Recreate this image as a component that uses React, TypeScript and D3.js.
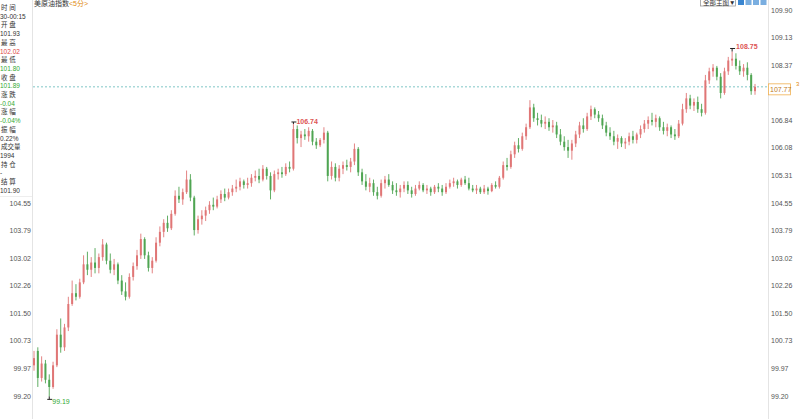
import React from "react";
import * as d3 from "d3";

const W = 800;
const H = 419;

// [open, high, low, close]
const ohlc: [number, number, number, number][] = [
  [100.05, 100.45, 99.9, 100.25], [100.45, 100.55, 99.45, 99.7], [99.7, 100.3, 99.6, 100.1], [100.1, 100.2, 99.55, 99.65],
  [99.65, 99.8, 99.19, 99.45], [99.45, 100.15, 99.4, 100.05], [100.05, 101.05, 100.0, 100.9], [100.9, 101.35, 100.4, 100.55],
  [100.55, 101.2, 100.45, 101.1], [101.1, 101.95, 101.0, 101.75], [101.75, 102.4, 101.7, 102.05], [102.05, 102.3, 101.85, 101.95],
  [101.95, 102.45, 101.9, 102.35], [102.35, 103.1, 102.3, 102.85], [102.85, 103.2, 102.55, 102.7], [102.7, 103.05, 102.5, 102.9],
  [102.9, 103.3, 102.6, 102.75], [102.75, 103.15, 102.6, 103.05], [103.05, 103.55, 102.95, 103.4], [103.4, 103.45, 102.85, 102.95],
  [102.95, 103.15, 102.6, 102.7], [102.7, 103.0, 102.55, 102.85], [102.85, 102.9, 102.3, 102.4], [102.4, 102.55, 102.0, 102.1],
  [102.1, 102.35, 101.85, 101.95], [101.95, 102.6, 101.9, 102.5], [102.5, 102.9, 102.4, 102.8], [102.8, 103.25, 102.7, 103.1],
  [103.1, 103.7, 103.0, 103.55], [103.55, 103.6, 103.0, 103.1], [103.1, 103.2, 102.65, 102.75], [102.75, 103.05, 102.6, 102.95],
  [102.95, 103.6, 102.9, 103.45], [103.45, 103.9, 103.35, 103.75], [103.75, 104.1, 103.6, 104.0], [104.0, 104.2, 103.75, 103.85],
  [103.85, 104.35, 103.8, 104.25], [104.25, 104.9, 104.2, 104.75], [104.75, 105.0, 104.55, 104.65], [104.65, 104.95, 104.5, 104.85],
  [104.85, 105.45, 104.8, 105.2], [105.2, 105.35, 104.6, 104.7], [104.7, 104.75, 103.65, 103.8], [103.8, 104.2, 103.7, 104.1],
  [104.1, 104.35, 103.95, 104.2], [104.2, 104.45, 104.05, 104.35], [104.35, 104.6, 104.25, 104.5], [104.5, 104.7, 104.35, 104.45],
  [104.45, 104.75, 104.4, 104.65], [104.65, 104.9, 104.55, 104.8], [104.8, 104.95, 104.6, 104.7], [104.7, 104.95, 104.65, 104.85],
  [104.85, 105.05, 104.75, 104.95], [104.95, 105.2, 104.85, 105.0], [105.0, 105.25, 104.9, 105.15], [105.15, 105.2, 104.95, 105.05],
  [105.05, 105.25, 104.95, 105.1], [105.1, 105.35, 105.0, 105.25], [105.25, 105.45, 105.15, 105.3], [105.3, 105.5, 105.1, 105.2],
  [105.2, 105.6, 105.15, 105.5], [105.5, 105.55, 105.2, 105.3], [105.3, 105.4, 104.65, 104.9], [104.9, 105.45, 104.85, 105.35],
  [105.35, 105.5, 105.2, 105.4], [105.4, 105.55, 105.25, 105.35], [105.35, 105.65, 105.3, 105.55], [105.55, 105.7, 105.4, 105.5],
  [105.5, 106.74, 105.45, 106.6], [106.6, 106.7, 106.2, 106.35], [106.35, 106.55, 106.1, 106.45], [106.45, 106.6, 106.3, 106.4],
  [106.4, 106.65, 106.25, 106.55], [106.55, 106.6, 106.15, 106.25], [106.25, 106.35, 106.05, 106.15], [106.15, 106.35, 106.1, 106.3],
  [106.3, 106.65, 106.2, 106.5], [106.5, 106.55, 105.15, 105.3], [105.3, 105.7, 105.2, 105.55], [105.55, 105.65, 105.15, 105.25],
  [105.25, 105.6, 105.15, 105.5], [105.5, 105.7, 105.35, 105.6], [105.6, 105.75, 105.45, 105.55], [105.55, 105.8, 105.4, 105.7],
  [105.7, 106.2, 105.6, 106.05], [106.05, 106.1, 105.3, 105.4], [105.4, 105.5, 105.05, 105.15], [105.15, 105.35, 104.9, 105.0],
  [105.0, 105.25, 104.85, 105.1], [105.1, 105.2, 104.75, 104.85], [104.85, 105.0, 104.65, 104.75], [104.75, 105.2, 104.7, 105.1],
  [105.1, 105.3, 104.95, 105.2], [105.2, 105.35, 105.0, 105.05], [105.05, 105.15, 104.8, 104.9], [104.9, 105.1, 104.75, 104.85],
  [104.85, 105.05, 104.7, 104.95], [104.95, 105.15, 104.85, 105.05], [105.05, 105.15, 104.8, 104.9], [104.9, 105.0, 104.7, 104.8],
  [104.8, 105.05, 104.75, 104.95], [104.95, 105.15, 104.9, 105.05], [105.05, 105.1, 104.85, 104.9], [104.9, 105.05, 104.8, 104.95],
  [104.95, 105.0, 104.75, 104.85], [104.85, 105.05, 104.8, 105.0], [105.0, 105.1, 104.85, 104.95], [104.95, 105.05, 104.75, 104.85],
  [104.85, 105.1, 104.8, 105.0], [105.0, 105.2, 104.95, 105.1], [105.1, 105.25, 105.0, 105.15], [105.15, 105.2, 104.95, 105.05],
  [105.05, 105.25, 105.0, 105.2], [105.2, 105.3, 105.05, 105.1], [105.1, 105.25, 104.9, 104.95], [104.95, 105.05, 104.85, 104.9],
  [104.9, 105.05, 104.8, 104.95], [104.95, 105.0, 104.8, 104.85], [104.85, 105.05, 104.8, 104.95], [104.95, 105.0, 104.78, 104.88],
  [104.88, 105.1, 104.85, 105.05], [105.05, 105.15, 104.95, 105.0], [105.0, 105.3, 104.95, 105.25], [105.25, 105.7, 105.2, 105.6],
  [105.6, 105.8, 105.45, 105.55], [105.55, 106.0, 105.5, 105.9], [105.9, 106.25, 105.8, 106.15], [106.15, 106.35, 105.95, 106.05],
  [106.05, 106.5, 106.0, 106.4], [106.4, 106.75, 106.3, 106.65], [106.65, 107.4, 106.6, 107.2], [107.2, 107.3, 106.8, 106.9],
  [106.9, 107.05, 106.7, 106.85], [106.85, 107.0, 106.65, 106.75], [106.75, 106.95, 106.6, 106.8], [106.8, 106.9, 106.55, 106.65],
  [106.65, 106.85, 106.5, 106.7], [106.7, 106.8, 106.35, 106.45], [106.45, 106.6, 106.15, 106.25], [106.25, 106.4, 106.0, 106.1],
  [106.1, 106.3, 105.8, 106.0], [106.0, 106.3, 105.75, 106.2], [106.2, 106.55, 106.1, 106.45], [106.45, 106.8, 106.35, 106.7],
  [106.7, 106.9, 106.5, 106.6], [106.6, 107.05, 106.55, 106.95], [106.95, 107.25, 106.85, 107.15], [107.15, 107.2, 106.9, 107.0],
  [107.0, 107.1, 106.8, 106.9], [106.9, 107.0, 106.6, 106.7], [106.7, 106.8, 106.4, 106.5], [106.5, 106.65, 106.3, 106.4],
  [106.4, 106.55, 106.15, 106.25], [106.25, 106.45, 106.05, 106.35], [106.35, 106.4, 106.1, 106.2], [106.2, 106.35, 106.05, 106.25],
  [106.25, 106.5, 106.15, 106.4], [106.4, 106.55, 106.2, 106.3], [106.3, 106.5, 106.2, 106.45], [106.45, 106.7, 106.35, 106.6],
  [106.6, 106.85, 106.5, 106.75], [106.75, 106.95, 106.6, 106.85], [106.85, 107.05, 106.7, 106.8], [106.8, 107.0, 106.65, 106.9],
  [106.9, 106.95, 106.55, 106.65], [106.65, 106.8, 106.45, 106.55], [106.55, 106.75, 106.4, 106.65], [106.65, 106.7, 106.35, 106.45],
  [106.45, 106.6, 106.3, 106.4], [106.4, 106.85, 106.35, 106.75], [106.75, 107.3, 106.7, 107.15], [107.15, 107.6, 107.05, 107.45],
  [107.45, 107.55, 107.15, 107.25], [107.25, 107.45, 107.1, 107.35], [107.35, 107.5, 107.05, 107.15], [107.15, 107.3, 106.95, 107.05],
  [107.05, 108.1, 107.0, 107.95], [107.95, 108.3, 107.85, 108.2], [108.2, 108.4, 108.05, 108.3], [108.3, 108.35, 107.95, 108.05],
  [108.05, 108.15, 107.45, 107.6], [107.6, 108.3, 107.55, 108.2], [108.2, 108.6, 108.1, 108.5], [108.5, 108.75, 108.35, 108.55],
  [108.55, 108.7, 108.25, 108.35], [108.35, 108.5, 108.1, 108.2], [108.2, 108.4, 108.05, 108.3], [108.3, 108.45, 107.95, 108.1],
  [108.1, 108.15, 107.55, 107.65], [107.65, 107.85, 107.55, 107.77],
];

const yTicks = [99.2, 99.97, 100.73, 101.5, 102.26, 103.02, 103.79, 104.55, 105.31, 106.08, 106.84, 107.6, 108.37, 109.13, 109.9];
const lastPrice = 107.77;
const infoLabels = ["时 间", "开 盘", "最 高", "最 低", "收 盘", "涨 跌", "涨 幅", "振 幅", "成交量", "持 仓", "结 算"];
const infoValues = ["30-00:15", "101.93", "102.02", "101.80", "101.89", "-0.04", "-0.04%", "0.22%", "1994", "-", "101.90"];
const infoColors = ["#333", "#333", "#d44", "#3a3", "#3a3", "#3a3", "#3a3", "#333", "#333", "#333", "#333"];

const RED = "#e07676";
const GREEN = "#4fa552";
const FONT = "Arial, 'Liberation Sans', 'Noto Sans CJK SC', sans-serif";

export default function App() {
  const y = d3.scaleLinear().domain([99.2, 109.9]).range([396, 10]);
  const x = d3.scaleLinear().domain([0, ohlc.length - 1]).range([34, 755]);
  const bodyW = 2;
  const infoBottom = 197;

  let hiIdx = 0;
  let loIdx = 0;
  ohlc.forEach((d, i) => {
    if (d[1] > ohlc[hiIdx][1]) hiIdx = i;
    if (d[2] < ohlc[loIdx][2]) loIdx = i;
  });
  let midIdx = 60;
  for (let i = 60; i < 90; i++) if (ohlc[i][1] > ohlc[midIdx][1]) midIdx = i;

  const fmt = d3.format(".2f");
  const ly = y(lastPrice);

  return (
    <svg width={W} height={H} style={{ position: "absolute", left: 0, top: 0, background: "#fff" }} fontFamily={FONT}>
      <rect x={0} y={0} width={W} height={H} fill="#fff" />
      <line x1={32.5} x2={32.5} y1={0} y2={H} stroke="#e4e4e4" />
      <line x1={768.5} x2={768.5} y1={0} y2={H} stroke="#e4e4e4" />
      {yTicks
        .filter((t) => y(t) > infoBottom)
        .map((t) => (
          <text key={"l" + t} x={31} y={y(t) + 2.5} fontSize={7} fill="#555" textAnchor="end">
            {fmt(t)}
          </text>
        ))}
      {yTicks
        .filter((t) => Math.abs(y(t) - ly - 2.5) > 9)
        .map((t) => (
          <text key={"r" + t} x={771} y={y(t) + 2.5} fontSize={7} fill="#555">
            {fmt(t)}
          </text>
        ))}
      <line x1={33} x2={768} y1={ly} y2={ly} stroke="#5fb8b8" strokeWidth={0.8} strokeDasharray="2,2" />
      {ohlc.map((d, i) => {
        const [o, h, l, c] = d;
        const up = c >= o;
        const col = up ? RED : GREEN;
        const cx = x(i);
        const top = y(Math.max(o, c));
        const bot = y(Math.min(o, c));
        return (
          <g key={i}>
            <line x1={cx} x2={cx} y1={y(h)} y2={y(l)} stroke={col} strokeWidth={0.9} />
            <rect x={cx - bodyW / 2} y={top} width={bodyW} height={Math.max(1, bot - top)} fill={col} />
          </g>
        );
      })}
      <line x1={x(hiIdx)} x2={x(hiIdx)} y1={y(ohlc[hiIdx][1]) - 3} y2={y(ohlc[hiIdx][1])} stroke="#222" />
      <line x1={x(hiIdx) - 2} x2={x(hiIdx) + 3} y1={y(ohlc[hiIdx][1]) - 3} y2={y(ohlc[hiIdx][1]) - 3} stroke="#222" />
      <text x={x(hiIdx) + 4} y={y(ohlc[hiIdx][1]) - 2} fontSize={7} fill="#d55" fontWeight="bold">
        {fmt(ohlc[hiIdx][1])}
      </text>
      <line x1={x(midIdx)} x2={x(midIdx)} y1={y(ohlc[midIdx][1]) - 2} y2={y(ohlc[midIdx][1])} stroke="#222" />
      <line x1={x(midIdx) - 2} x2={x(midIdx) + 3} y1={y(ohlc[midIdx][1]) - 2} y2={y(ohlc[midIdx][1]) - 2} stroke="#222" />
      <text x={x(midIdx) + 3} y={y(ohlc[midIdx][1])} fontSize={7} fill="#d55" fontWeight="bold">
        {fmt(ohlc[midIdx][1])}
      </text>
      <line x1={x(loIdx)} x2={x(loIdx)} y1={y(ohlc[loIdx][2])} y2={y(ohlc[loIdx][2]) + 3} stroke="#222" />
      <line x1={x(loIdx) - 2} x2={x(loIdx) + 3} y1={y(ohlc[loIdx][2]) + 3} y2={y(ohlc[loIdx][2]) + 3} stroke="#222" />
      <text x={x(loIdx) + 3} y={y(ohlc[loIdx][2]) + 8} fontSize={7} fill="#3a3">
        {fmt(ohlc[loIdx][2])}
      </text>
      <rect x={768.5} y={ly - 3} width={22} height={11} fill="#fff" stroke="#f0b050" strokeWidth={0.8} />
      <text x={770} y={ly + 5} fontSize={7} fill="#c07a20">
        {fmt(lastPrice)}
      </text>
      <text x={796} y={ly - 1} fontSize={6} fill="#e08a10">3</text>
      <rect x={0} y={0} width={32} height={infoBottom} fill="#fff" />
      <line x1={0} x2={32} y1={infoBottom - 0.5} y2={infoBottom - 0.5} stroke="#eee" />
      {infoLabels.map((lab, i) => (
        <g key={"info" + i}>
          <text x={1} y={10 + i * 17.4} fontSize={6.5} fill="#333">{lab}</text>
          <text x={0} y={18.7 + i * 17.4} fontSize={6.5} fill={infoColors[i]}>{infoValues[i]}</text>
        </g>
      ))}
      <text x={34} y={6} fontSize={7} fill="#333">
        美原油指数
        <tspan fill="#e08a10">{"<5分>"}</tspan>
      </text>
      <rect x={700.5} y={-3} width={35} height={9} fill="#fff" stroke="#999" strokeWidth={0.8} />
      <text x={703} y={4.5} fontSize={6.5} fill="#333">全部主图▼</text>
      {[0, 1, 2, 3].map((k) => (
        <rect key={"ic" + k} x={738 + k * 7.5} y={-1} width={6} height={6} fill={k === 0 ? "#3a86d0" : "#7aaee0"} />
      ))}
    </svg>
  );
}
